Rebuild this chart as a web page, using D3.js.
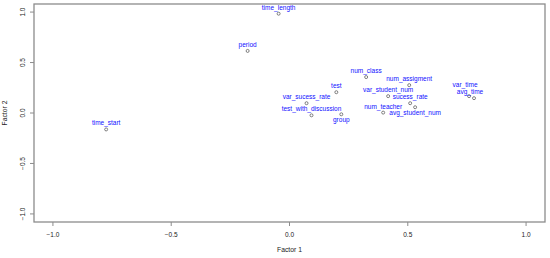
<!DOCTYPE html>
<html>
<head>
<meta charset="utf-8">
<script src="https://cdn.jsdelivr.net/npm/d3@7"></script>
<style>
body {
	margin: 0;
	background: white;
	font-family: "Liberation Sans", Arial, sans-serif;
}
.tick-label {
	font-size: 6.5px;
	fill: #222;
}
.title {
	font-size: 6.8px;
	fill: #222;
}
.var-label {
	font-size: 6.5px;
	fill: #1010ff;
}
</style>
</head>
<body>
<div id="chart"></div>
<script>

// -- data: factor loadings

var names = [
	"time_length", "period", "time_start", "num_class", "num_assigment",
	"test", "var_student_num", "var_sucess_rate", "sucess_rate",
	"avg_student_num", "num_teacher", "test_with_discussion", "group",
	"var_time", "avg_time"
];
var factor1 = [
	-0.046, -0.177, -0.775, 0.324, 0.506,
	0.198, 0.417, 0.072, 0.510,
	0.531, 0.396, 0.093, 0.219,
	0.759, 0.780
];
var factor2 = [
	0.984, 0.615, -0.163, 0.356, 0.276,
	0.206, 0.167, 0.097, 0.097,
	0.057, 0.004, -0.023, -0.013,
	0.167, 0.147
];
// R text() pos: 1 = below, 3 = above
var labelPos = [3, 3, 3, 3, 3, 3, 3, 3, 3, 1, 3, 3, 1, 3, 3];

var xTicks = [-1.0, -0.5, 0.0, 0.5, 1.0];
var yTicks = [-1.0, -0.5, 0.0, 0.5, 1.0];

// -- layout

const W = 550, H = 258;
const plotL = 34, plotR = 545, plotT = 4, plotB = 222;

// hand nudges so crowded labels don't sit on each other
const nudge = {
	var_time: [-4, -5],
	avg_time: [-4, 0]
};

var svg = d3.select("#chart")
	.append("svg")
		.attr("width", W)
		.attr("height", H);

// R style: limits -1..1 plus 4% each side
var x = d3.scaleLinear()
	.domain([-1.08, 1.08])
	.range([plotL, plotR]);
var y = d3.scaleLinear()
	.domain([-1.08, 1.08])
	.range([plotB, plotT]);

var fmt = d3.format(".1f");

// box
svg.append("rect")
	.attr("x", plotL)
	.attr("y", plotT)
	.attr("width", plotR - plotL)
	.attr("height", plotB - plotT)
	.attr("fill", "none")
	.attr("stroke", "#8c8c8c")
	.attr("stroke-width", 1.3);

// x axis ticks
svg.selectAll(".xtick")
	.data(xTicks)
	.enter()
	.append("line")
	.attr("x1", d => x(d))
	.attr("x2", d => x(d))
	.attr("y1", plotB)
	.attr("y2", plotB + 4)
	.attr("stroke", "#8c8c8c");

svg.selectAll(".xlab")
	.data(xTicks)
	.enter()
	.append("text")
	.attr("class", "tick-label")
	.attr("x", d => x(d))
	.attr("y", plotB + 14.5)
	.attr("text-anchor", "middle")
	.text(d => fmt(d));

// y axis ticks
svg.selectAll(".ytick")
	.data(yTicks)
	.enter()
	.append("line")
	.attr("x1", plotL)
	.attr("x2", plotL - 4)
	.attr("y1", d => y(d))
	.attr("y2", d => y(d))
	.attr("stroke", "#8c8c8c");

svg.selectAll(".ylab")
	.data(yTicks)
	.enter()
	.append("text")
	.attr("class", "tick-label")
	.attr("transform", d => "translate(" + (plotL - 9) + "," + y(d) + ") rotate(-90)")
	.attr("text-anchor", "middle")
	.text(d => fmt(d));

// axis titles
svg.append("text")
	.attr("class", "title")
	.attr("x", (plotL + plotR) / 2)
	.attr("y", 252)
	.attr("text-anchor", "middle")
	.text("Factor 1");

svg.append("text")
	.attr("class", "title")
	.attr("transform", "translate(7," + ((plotT + plotB) / 2) + ") rotate(-90)")
	.attr("text-anchor", "middle")
	.text("Factor 2");

// points
var data = names.map((n, i) => ({name: n, f1: factor1[i], f2: factor2[i], pos: labelPos[i]}));

svg.selectAll(".pt")
	.data(data)
	.enter()
	.append("circle")
	.attr("cx", d => x(d.f1))
	.attr("cy", d => y(d.f2))
	.attr("r", 1.5)
	.attr("fill", "none")
	.attr("stroke", "#333")
	.attr("stroke-width", 0.6);

svg.selectAll(".var-label")
	.data(data)
	.enter()
	.append("text")
	.attr("class", "var-label")
	.attr("x", d => x(d.f1) + (nudge[d.name] ? nudge[d.name][0] : 0))
	.attr("y", d => y(d.f2) + (d.pos == 1 ? 7.5 : -4) + (nudge[d.name] ? nudge[d.name][1] : 0))
	.attr("text-anchor", "middle")
	.text(d => d.name);

</script>
</body>
</html>
